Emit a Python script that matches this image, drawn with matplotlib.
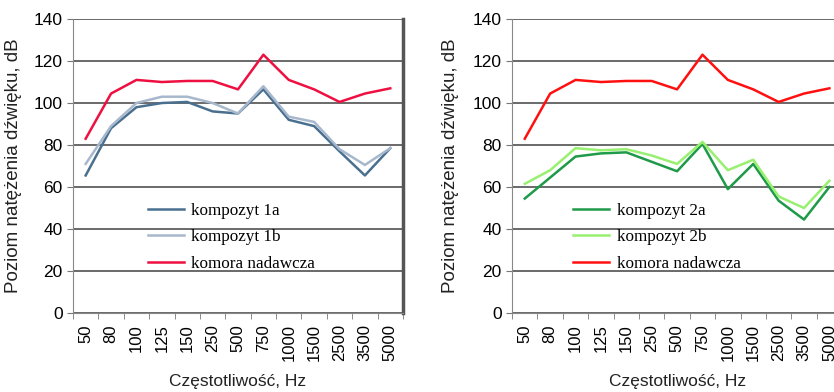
import matplotlib.pyplot as plt
import numpy as np

# czestotliwosci pomiarowe (os kategorii)
freq = ["50", "80", "100", "125", "150", "250", "500", "750",
        "1000", "1500", "2500", "3500", "5000"]

# poziom natezenia dzwieku, dB
komora = [83, 104.5, 111, 110, 110.5, 110.5, 106.5, 123, 111, 106.5, 100.5, 104.5, 107]
komp_1a = [65.5, 88, 98, 100, 100.5, 96, 95, 106.5, 92, 89, 77, 65.5, 78.5]
komp_1b = [71, 89, 100, 103, 103, 100, 95, 108, 93.5, 91, 78, 70.5, 78.5]
komp_2a = [54.5, 64.5, 74.5, 76, 76.5, 72, 67.5, 80.5, 59, 71, 53.5, 44.5, 60]
komp_2b = [61.5, 68, 78.5, 77.5, 78, 75, 71, 81.5, 68, 73, 55.5, 50, 63]

plt.rcParams['font.family'] = ['Liberation Sans', 'DejaVu Sans']

fig = plt.figure(figsize=(8.34, 3.92), dpi=100)
ax1 = fig.add_axes([0.0875, 0.2015, 0.3957, 0.75])
ax2 = fig.add_axes([0.614, 0.2015, 0.3957, 0.75])

x = np.arange(len(freq))


def rysuj(ax, serie, right_dark, leg_x):
    for y, kolor, nazwa in serie:
        ax.plot(x, y, color=kolor, lw=1.8, label=nazwa)
    ax.set_xlim(-0.5, len(freq) - 0.5)
    ax.set_ylim(0, 140)
    ax.set_yticks(range(0, 141, 20))
    ax.yaxis.grid(True, color='#5e5e5e', lw=1.3)
    ax.set_axisbelow(True)
    ax.set_xticks(x)
    ax.set_xticklabels(freq, rotation=90, fontsize=12)
    ax.set_xticks(np.arange(-0.5, len(freq)), minor=True)
    ax.tick_params(axis='x', which='major', length=0, pad=8)
    ax.tick_params(axis='x', which='minor', length=4, color='#777777')
    ax.tick_params(axis='y', length=4, color='#777777', labelsize=12.5)
    ax.spines['top'].set_visible(False)
    ax.spines['left'].set_color('#888888')
    ax.spines['bottom'].set_color('#888888')
    if right_dark:
        ax.spines['right'].set_color('#555555')
        ax.spines['right'].set_linewidth(2.5)
    else:
        ax.spines['right'].set_visible(False)
    ax.set_xlabel("Częstotliwość, Hz", fontsize=12.5, labelpad=9, color='#222222')
    ax.set_ylabel("Poziom natężenia dźwięku, dB", fontsize=13.5, color='#222222')
    ax.legend(loc='center left', bbox_to_anchor=(leg_x, 0.258), frameon=False,
              prop={'family': 'Liberation Serif', 'size': 12.3},
              handlelength=2.1, labelspacing=0.62, handletextpad=0.45,
              borderaxespad=0, borderpad=0)


rysuj(ax1, [(komp_1a, '#4a7090', 'kompozyt 1a'),
            (komp_1b, '#a8b8cc', 'kompozyt 1b'),
            (komora, '#ee1040', 'komora nadawcza')], True, 0.227)
rysuj(ax2, [(komp_2a, '#1e9a48', 'kompozyt 2a'),
            (komp_2b, '#98f070', 'kompozyt 2b'),
            (komora, '#ff1010', 'komora nadawcza')], False, 0.185)

ax1.yaxis.set_label_coords(-0.155, 0.5)
ax2.yaxis.set_label_coords(-0.16, 0.5)

fig.savefig("out.png", dpi=100)
